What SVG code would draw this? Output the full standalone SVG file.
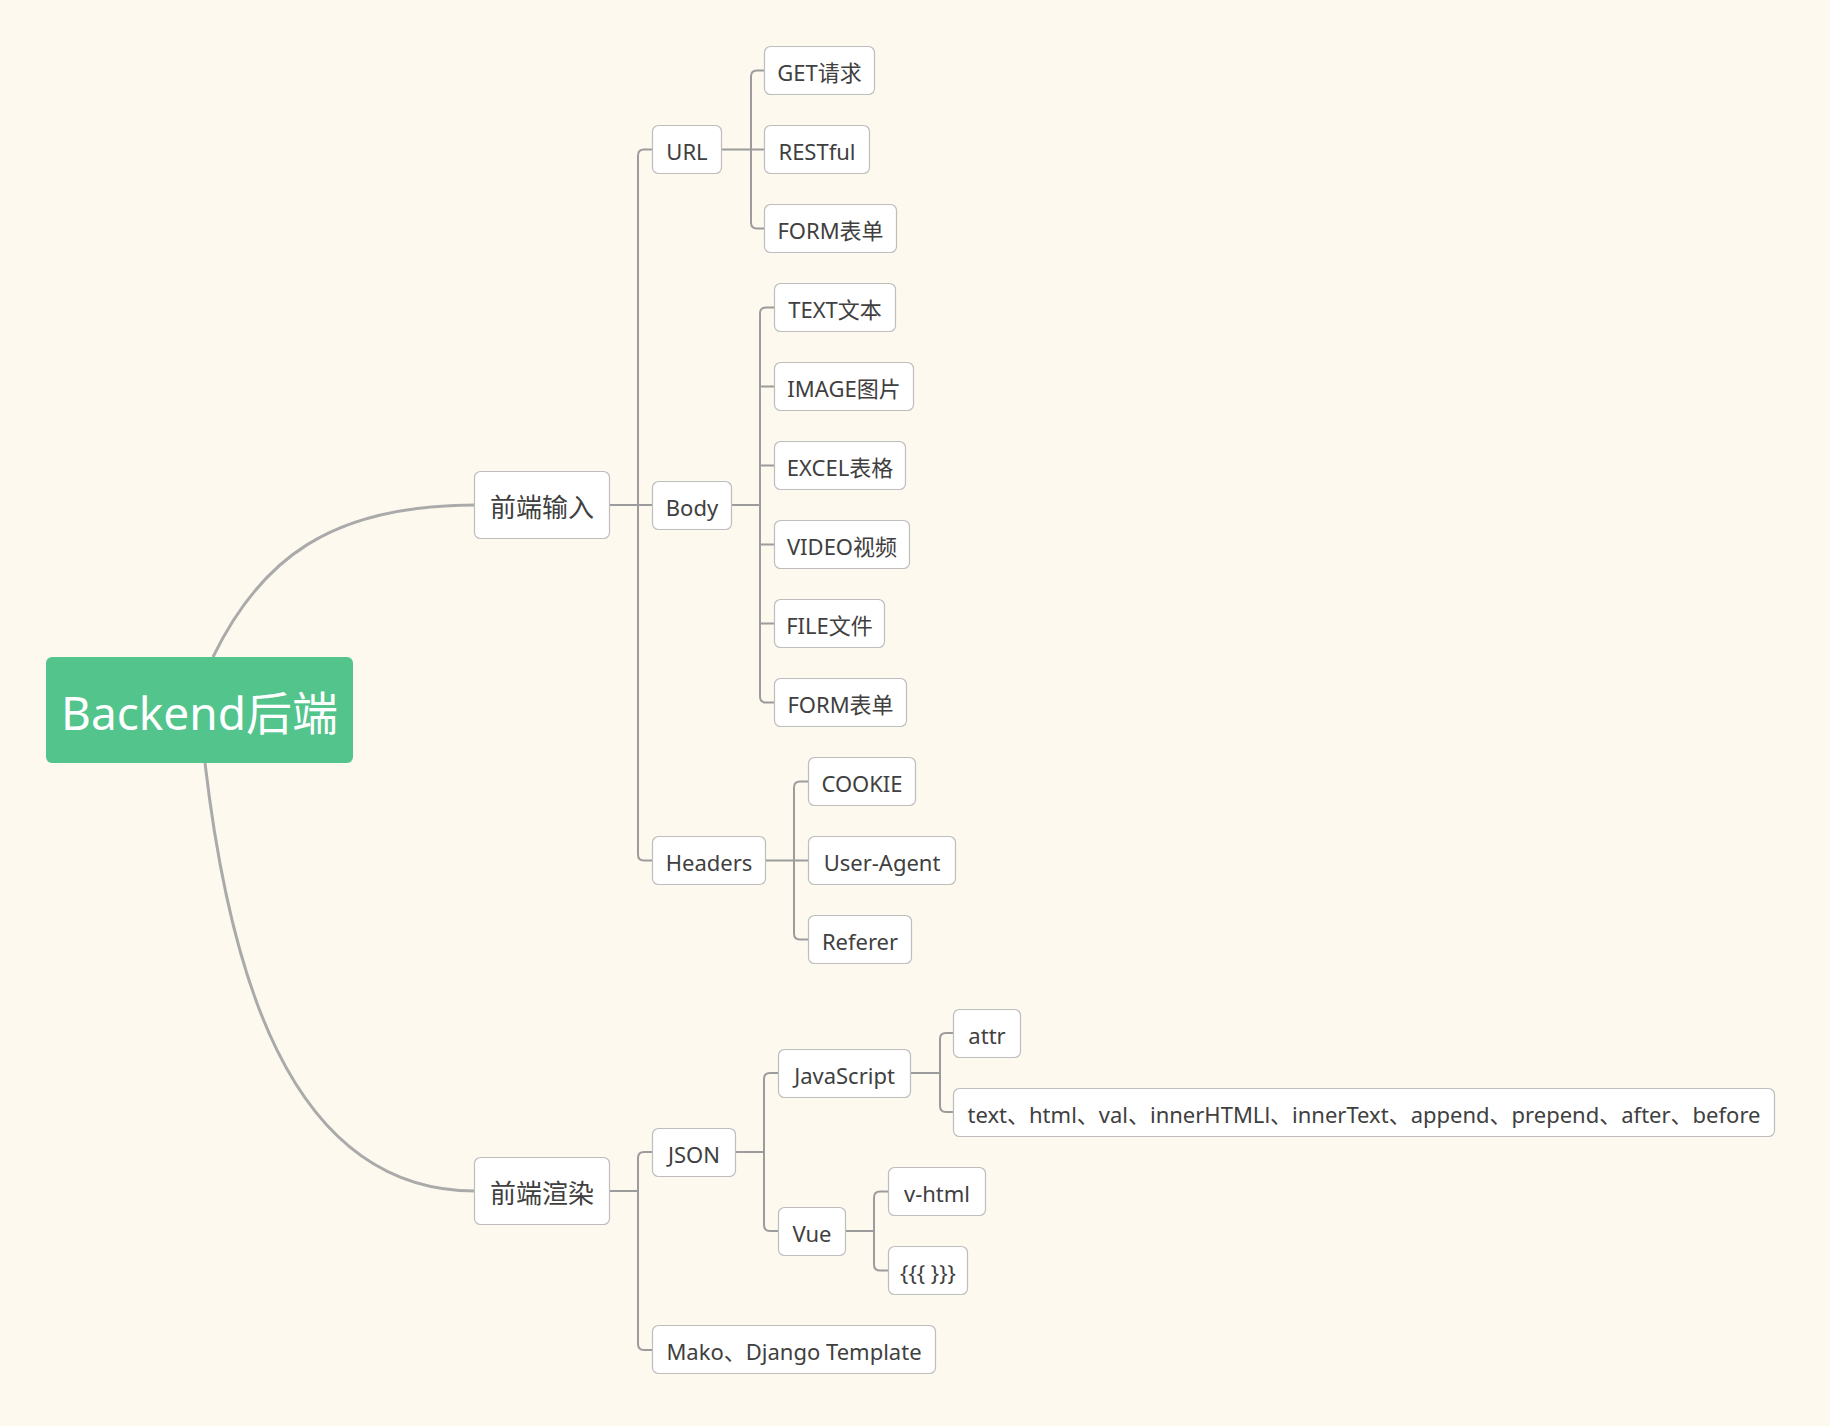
<svg xmlns="http://www.w3.org/2000/svg" width="1830" height="1426" viewBox="0 0 1830 1426">
  <style>
    .bg { fill: #fdf9ee; }
    .box { fill: #ffffff; stroke: #bdbdbd; stroke-width: 1.2; }
    .lbl { font-family: "Noto Sans", "Open Sans", "Noto Sans CJK SC", sans-serif; font-size: 22px; fill: #404040; text-anchor: middle; }
    .lbl-main { font-size: 26px; }
    .root-box { fill: #52c48c; }
    .root-lbl { font-family: "Noto Sans", "Open Sans", "Noto Sans CJK SC", sans-serif; font-size: 46px; fill: #ffffff; text-anchor: middle; }
    .curve { fill: none; stroke: #aaaaaa; stroke-width: 3; }
    .elbow { fill: none; stroke: #9c9c9c; stroke-width: 2; }
  </style>
  <rect class="bg" x="0" y="0" width="1830" height="1426"/>

  <!-- connectors -->
  <g id="connectors">
    <!-- root to first-level topics -->
    <path class="curve" d="M213,657 C260,560 330,505 475,505"/>
    <path class="curve" d="M205,763 C228,960 285,1191 475,1191"/>

    <!-- 前端输入 -> URL / Body / Headers -->
    <path class="elbow" d="M609,505 H652"/>
    <path class="elbow" d="M652,149.5 H644 Q638,149.5 638,155.5 V854.5 Q638,860.5 644,860.5 H652"/>

    <!-- 前端渲染 -> JSON / Mako -->
    <path class="elbow" d="M609,1191 H638"/>
    <path class="elbow" d="M652,1152 H644 Q638,1152 638,1158 V1344 Q638,1350 644,1350 H652"/>

    <!-- URL -> children -->
    <path class="elbow" d="M721,149.5 H764"/>
    <path class="elbow" d="M764,70.5 H757 Q751,70.5 751,76.5 V222.5 Q751,228.5 757,228.5 H764"/>

    <!-- Body -> children -->
    <path class="elbow" d="M732,505 H760"/>
    <path class="elbow" d="M774,307.5 H766 Q760,307.5 760,313.5 V696.5 Q760,702.5 766,702.5 H774"/>
    <path class="elbow" d="M760,386.5 H774 M760,465.5 H774 M760,544.5 H774 M760,623.5 H774"/>

    <!-- Headers -> children -->
    <path class="elbow" d="M765,860.5 H808"/>
    <path class="elbow" d="M808,781.5 H800 Q794,781.5 794,787.5 V933.5 Q794,939.5 800,939.5 H808"/>

    <!-- JSON -> JavaScript / Vue -->
    <path class="elbow" d="M735,1152 H764"/>
    <path class="elbow" d="M778,1073 H770 Q764,1073 764,1079 V1225 Q764,1231 770,1231 H778"/>

    <!-- JavaScript -> children -->
    <path class="elbow" d="M910,1073 H940"/>
    <path class="elbow" d="M953,1033 H946 Q940,1033 940,1039 V1106 Q940,1112 946,1112 H953"/>

    <!-- Vue -> children -->
    <path class="elbow" d="M845,1231 H874"/>
    <path class="elbow" d="M888,1191.5 H880 Q874,1191.5 874,1197.5 V1264.5 Q874,1270.5 880,1270.5 H888"/>
  </g>

  <!-- central topic -->
  <g id="root">
    <rect class="root-box" x="46" y="657" width="307" height="106" rx="6"/>
    <text class="root-lbl" x="199.5" y="730">Backend后端</text>
  </g>

  <!-- first level -->
  <g id="frontend-input">
    <rect class="box" x="474.5" y="471.5" width="135" height="67" rx="6"/>
    <text class="lbl lbl-main" x="542" y="517">前端输入</text>
  </g>
  <g id="frontend-render">
    <rect class="box" x="474.5" y="1157.5" width="135" height="67" rx="6"/>
    <text class="lbl lbl-main" x="542" y="1203">前端渲染</text>
  </g>

  <!-- 前端输入 branch -->
  <g id="url">
    <rect class="box" x="652.5" y="125.5" width="69" height="48" rx="6"/>
    <text class="lbl" x="687" y="159.5">URL</text>
  </g>
  <g id="url-get">
    <rect class="box" x="764.5" y="46.5" width="110" height="48" rx="6"/>
    <text class="lbl" x="819.5" y="80.5">GET请求</text>
  </g>
  <g id="url-restful">
    <rect class="box" x="764.5" y="125.5" width="105" height="48" rx="6"/>
    <text class="lbl" x="817" y="159.5">RESTful</text>
  </g>
  <g id="url-form">
    <rect class="box" x="764.5" y="204.5" width="132" height="48" rx="6"/>
    <text class="lbl" x="830.5" y="238.5">FORM表单</text>
  </g>

  <g id="body">
    <rect class="box" x="652.5" y="481.5" width="79" height="48" rx="6"/>
    <text class="lbl" x="692" y="515.5">Body</text>
  </g>
  <g id="body-text">
    <rect class="box" x="774.5" y="283.5" width="121" height="48" rx="6"/>
    <text class="lbl" x="835" y="317.5">TEXT文本</text>
  </g>
  <g id="body-image">
    <rect class="box" x="774.5" y="362.5" width="139" height="48" rx="6"/>
    <text class="lbl" x="844" y="396.5">IMAGE图片</text>
  </g>
  <g id="body-excel">
    <rect class="box" x="774.5" y="441.5" width="131" height="48" rx="6"/>
    <text class="lbl" x="840" y="475.5">EXCEL表格</text>
  </g>
  <g id="body-video">
    <rect class="box" x="774.5" y="520.5" width="135" height="48" rx="6"/>
    <text class="lbl" x="842" y="554.5">VIDEO视频</text>
  </g>
  <g id="body-file">
    <rect class="box" x="774.5" y="599.5" width="110" height="48" rx="6"/>
    <text class="lbl" x="829.5" y="633.5">FILE文件</text>
  </g>
  <g id="body-form">
    <rect class="box" x="774.5" y="678.5" width="132" height="48" rx="6"/>
    <text class="lbl" x="840.5" y="712.5">FORM表单</text>
  </g>

  <g id="headers">
    <rect class="box" x="652.5" y="836.5" width="113" height="48" rx="6"/>
    <text class="lbl" x="709" y="870.5">Headers</text>
  </g>
  <g id="headers-cookie">
    <rect class="box" x="808.5" y="757.5" width="107" height="48" rx="6"/>
    <text class="lbl" x="862" y="791.5">COOKIE</text>
  </g>
  <g id="headers-ua">
    <rect class="box" x="808.5" y="836.5" width="147" height="48" rx="6"/>
    <text class="lbl" x="882" y="870.5">User-Agent</text>
  </g>
  <g id="headers-referer">
    <rect class="box" x="808.5" y="915.5" width="103" height="48" rx="6"/>
    <text class="lbl" x="860" y="949.5">Referer</text>
  </g>

  <!-- 前端渲染 branch -->
  <g id="json">
    <rect class="box" x="652.5" y="1128.5" width="83" height="48" rx="6"/>
    <text class="lbl" x="694" y="1162.5">JSON</text>
  </g>
  <g id="javascript">
    <rect class="box" x="778.5" y="1049.5" width="132" height="48" rx="6"/>
    <text class="lbl" x="844.5" y="1083.5">JavaScript</text>
  </g>
  <g id="js-attr">
    <rect class="box" x="953.5" y="1009.5" width="67" height="48" rx="6"/>
    <text class="lbl" x="987" y="1043.5">attr</text>
  </g>
  <g id="js-methods">
    <rect class="box" x="953.5" y="1088.5" width="821" height="48" rx="6"/>
    <text class="lbl" x="1364" y="1122.5">text、html、val、innerHTMLl、innerText、append、prepend、after、before</text>
  </g>
  <g id="vue">
    <rect class="box" x="778.5" y="1207.5" width="67" height="48" rx="6"/>
    <text class="lbl" x="812" y="1241.5">Vue</text>
  </g>
  <g id="vue-vhtml">
    <rect class="box" x="888.5" y="1167.5" width="97" height="48" rx="6"/>
    <text class="lbl" x="937" y="1201.5">v-html</text>
  </g>
  <g id="vue-mustache">
    <rect class="box" x="888.5" y="1246.5" width="79" height="48" rx="6"/>
    <text class="lbl" x="928" y="1280.5">{{{ }}}</text>
  </g>
  <g id="mako-django">
    <rect class="box" x="652.5" y="1325.5" width="283" height="48" rx="6"/>
    <text class="lbl" x="794" y="1359.5">Mako、Django Template</text>
  </g>
</svg>
